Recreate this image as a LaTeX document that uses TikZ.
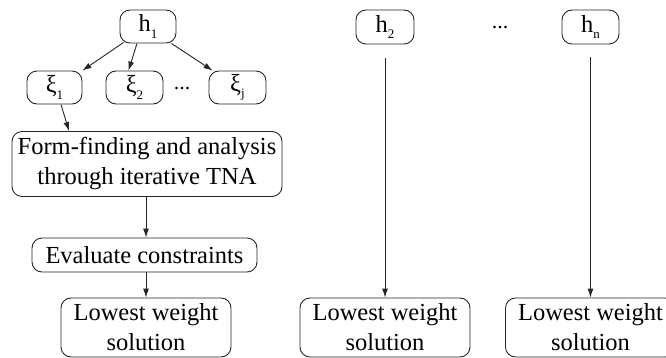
\documentclass[tikz,border=0pt]{standalone}
\usepackage{fontspec}
\setmainfont{Liberation Serif}
\usetikzlibrary{arrows.meta}
\newcommand{\sbs}[1]{\raisebox{-0.55ex}{\fontsize{13}{13}\selectfont #1}}
\begin{document}
\begin{tikzpicture}[x=1pt,y=-1pt,
  box/.style={draw=black!85,line width=0.9pt,rounded corners=10pt,inner sep=0pt,align=center,
    font=\rmfamily\fontsize{24.5}{30}\selectfont},
  dots/.style={font=\rmfamily\fontsize{22}{29}\selectfont,inner sep=0pt},
  arr/.style={draw=black!85,line width=0.9pt,-{Latex[length=9pt,width=6pt]}}]
\useasboundingbox (0,0) rectangle (666,358);
\node[box,minimum width=56pt,minimum height=33pt] (h1) at (148,26.5) {h\sbs{1}};
\node[box,minimum width=55pt,minimum height=33pt] (x1) at (54.5,87.5) {ξ\sbs{1}};
\node[box,minimum width=57pt,minimum height=33pt] (x2) at (134.5,87.5) {ξ\sbs{2}};
\node[box,minimum width=57pt,minimum height=33pt] (xj) at (237.5,87.5) {ξ\sbs{j}};
\node[dots] (d1) at (182,89) {...};
\node[box,minimum width=270pt,minimum height=65pt] (ff) at (147,164) {Form-finding and analysis\\through iterative TNA};
\node[box,minimum width=225pt,minimum height=34pt] (ev) at (144.5,255) {Evaluate constraints};
\node[box,minimum width=170pt,minimum height=59pt] (lw1) at (146,327.5) {Lowest weight\\solution};
\node[box,minimum width=58pt,minimum height=34pt] (h2) at (385,27) {h\sbs{2}};
\node[dots] (d2) at (500,28) {...};
\node[box,minimum width=57pt,minimum height=34pt] (hn) at (590.5,27) {h\sbs{n}};
\node[box,minimum width=170pt,minimum height=59pt] (lw2) at (385,327.5) {Lowest weight\\solution};
\node[box,minimum width=170pt,minimum height=59pt] (lw3) at (590.5,327.5) {Lowest weight\\solution};
\coordinate (s2) at (385,58);
\coordinate (sn) at (590.5,57);
\draw[arr] ([xshift=4pt,yshift=1pt]h1.south west) -- (x1.north east);
\draw[arr] ([xshift=-11pt]h1.south) -- ([xshift=-6pt]x2.north);
\draw[arr] ([xshift=-5pt]h1.south east) -- ([xshift=4pt]xj.north west);
\draw[arr] ([xshift=6.5pt]x1.south) -- ([xshift=-78pt]ff.north);
\draw[arr] ([xshift=-1pt]ff.south) -- ([xshift=1.5pt]ev.north);
\draw[arr] ([xshift=1.5pt]ev.south) -- (lw1.north);
\draw[arr] (s2) -- (lw2.north);
\draw[arr] (sn) -- (lw3.north);
\end{tikzpicture}
\end{document}
